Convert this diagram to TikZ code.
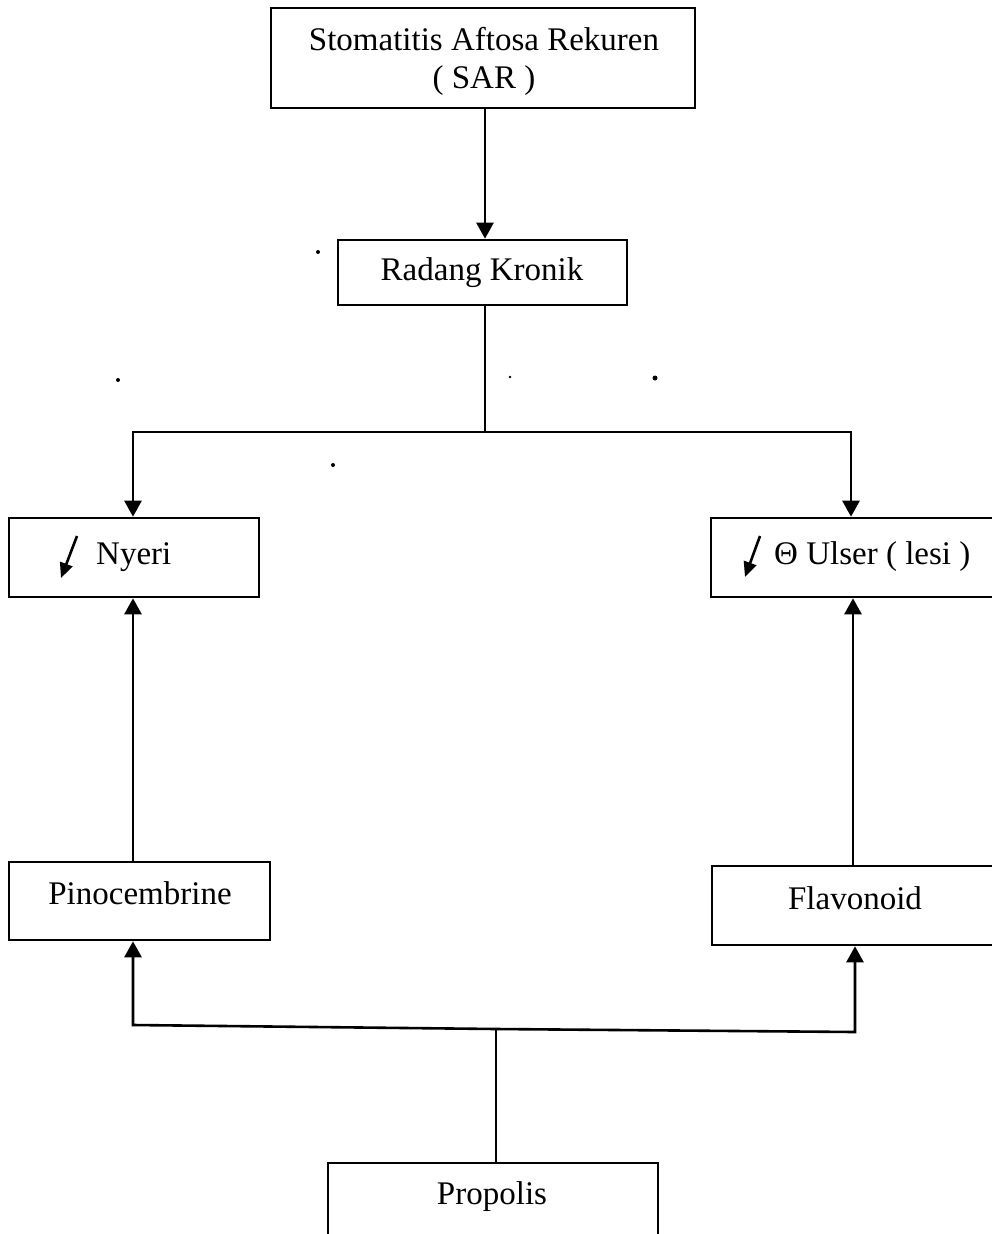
\documentclass[tikz,border=0pt]{standalone}
\usepackage{fontspec}
\setmainfont{Liberation Serif}
\usetikzlibrary{arrows.meta}
\begin{document}
\begin{tikzpicture}[x=1pt,y=-1pt,
  box/.style={draw,line width=2.6pt,rectangle,inner sep=0pt},
  lbl/.style={inner sep=0pt,font=\fontsize{33}{38}\selectfont,align=center},
  link/.style={line width=2.6pt,line join=miter},
  arr/.style={line width=2.6pt,line join=miter,-{Triangle[length=16pt,width=17pt]}},
  small/.style={line width=2.6pt,-{Triangle[length=15pt,width=13pt]}},
  speck/.style={fill=black,draw=none}]
\useasboundingbox (0,0) rectangle (992,1234);
\clip (0,0) rectangle (992,1234);
\fill[white] (0,0) rectangle (992,1234);

% boxes
\node[box,minimum width=424pt,minimum height=100pt] (sar) at (483,58) {};
\node[box,minimum width=289pt,minimum height=65pt] (radang) at (482.5,272.5) {};
\node[box,minimum width=250pt,minimum height=79pt] (nyeri) at (134,557.5) {};
\node[box,minimum width=300pt,minimum height=79pt] (ulser) at (861,557.5) {};
\node[box,minimum width=261pt,minimum height=78pt] (pino) at (139.5,901) {};
\node[box,minimum width=300pt,minimum height=79pt] (flav) at (862,905.5) {};
\node[box,minimum width=330pt,minimum height=86pt] (propolis) at (493,1206) {};

% texts
\node[lbl] (tsar) at (484,61) {Stomatitis Aftosa Rekuren\\( SAR )};
\node[lbl] (tradang) at (482,273) {Radang Kronik};
\node[lbl,anchor=west] (tnyeri) at (96,557) {Nyeri};
\node[lbl,anchor=west] (tulser) at (774,557) {Θ Ulser ( lesi )};
\node[lbl] (tpino) at (140,893) {Pinocembrine};
\node[lbl] (tflav) at (855,898) {Flavonoid};
\node[lbl] (tprop) at (492,1197) {Propolis};

% small decrease arrows
\coordinate (na1) at (77,536);
\coordinate (na2) at (61,578);
\coordinate (ua1) at (760,536);
\coordinate (ua2) at (745,577);
\draw[small] (na1) -- (na2);
\draw[small] (ua1) -- (ua2);

% connectors top part
\coordinate (j1) at (485,432);
\coordinate (jl) at (133,432);
\coordinate (jr) at (851,432);
\draw[arr] (sar.south -| j1) -- (radang.north -| j1);
\draw[link] (radang.south -| j1) -- (j1);
\draw[arr] (j1) -- (jl) -- (jl |- nyeri.north);
\draw[arr] (j1) -- (jr) -- (jr |- ulser.north);

% up from middle boxes
\coordinate (pl) at (133,0);
\coordinate (fr) at (853,0);
\draw[arr] (pl |- pino.north) -- (pl |- nyeri.south);
\draw[arr] (fr |- flav.north) -- (fr |- ulser.south);

% propolis bus
\coordinate (bj) at (496,1029);
\coordinate (bl) at (133,1025);
\coordinate (br) at (855,1032);
\draw[link] (propolis.north -| bj) -- (bj);
\draw[arr] (bj) -- (bl) -- (bl |- pino.south);
\draw[arr] (bj) -- (br) -- (br |- flav.south);

% scanning specks
\fill[speck] (318,252) circle (2pt);
\fill[speck] (118,380) circle (2pt);
\fill[speck] (510,377) circle (1.3pt);
\fill[speck] (655,378) circle (2.5pt);
\fill[speck] (333,465) circle (2pt);
\end{tikzpicture}
\end{document}
